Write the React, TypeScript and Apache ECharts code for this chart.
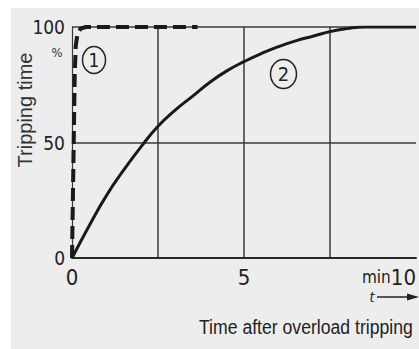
import React, { useEffect, useRef } from "react";
import * as echarts from "echarts";

// Curve ① (dashed): fast-acting
const curve1X = [0, 0.04, 0.08, 0.11, 0.16, 0.25, 0.4, 3.65];
const curve1Y = [0, 40, 80, 92, 97, 99.3, 100, 100];
// Curve ② (solid)
const curve2X = [0, 0.5, 1, 1.5, 2, 2.5, 3, 3.5, 4, 4.5, 5, 5.5, 6, 6.5, 7, 7.5, 8, 8.5, 9, 10];
const curve2Y = [0, 14, 27, 38, 48, 57, 64, 70, 76, 81, 85, 88.5, 91.5, 94, 96, 98, 99.3, 100, 100, 100];
const xTickLabels = [0, 5, 10];
const yTickLabels = [0, 50, 100];

const NARROW = "'Liberation Sans Narrow', 'DejaVu Sans Condensed', 'Liberation Sans', sans-serif";
const INK = "#1a1a1a";

export default function App() {
  const ref = useRef<HTMLDivElement>(null);
  useEffect(() => {
    if (!ref.current) return;
    const chart = echarts.init(ref.current, null, { renderer: "svg" });
    chart.setOption({
      animation: false,
      backgroundColor: "transparent",
      grid: { left: 72, right: 3, top: 27, bottom: 91 },
      xAxis: {
        type: "value",
        min: 0,
        max: 10,
        interval: 2.5,
        axisLine: { show: true, lineStyle: { color: "#2a2a2a", width: 2 } },
        axisTick: { show: false },
        axisLabel: {
          margin: 9,
          fontFamily: NARROW,
          fontSize: 22,
          lineHeight: 20,
          color: "#222",
          alignMaxLabel: "right",
          formatter: (v: number) =>
            v === 10 ? "{u|min}10" : xTickLabels.includes(v) ? String(v) : "",
          rich: {
            u: { fontFamily: NARROW, fontSize: 17, lineHeight: 20, color: "#222" },
          },
        },
        splitLine: { show: true, showMinLine: false, showMaxLine: false, lineStyle: { color: "#3a3a3a", width: 1.5 } },
      },
      yAxis: {
        type: "value",
        min: 0,
        max: 100,
        interval: 50,
        axisLine: { show: true, lineStyle: { color: "#3a3a3a", width: 1.2 } },
        axisTick: { show: false },
        axisLabel: {
          margin: 7,
          fontFamily: NARROW,
          fontSize: 19,
          color: "#222",
          formatter: (v: number) => (yTickLabels.includes(v) ? String(v) : ""),
        },
        splitLine: { show: true, lineStyle: { color: "#3a3a3a", width: 1.5 } },
      },
      series: [
        {
          type: "line",
          data: curve1X.map((x, i) => [x, curve1Y[i]]),
          showSymbol: false,
          symbol: "none",
          smooth: false,
          lineStyle: { color: INK, width: 4, type: [13, 6] },
          z: 3,
        },
        {
          type: "line",
          data: curve2X.map((x, i) => [x, curve2Y[i]]),
          showSymbol: false,
          symbol: "none",
          smooth: true,
          lineStyle: { color: INK, width: 3 },
          z: 4,
        },
      ],
      graphic: [
        {
          type: "text",
          x: 25,
          y: 110,
          rotation: Math.PI / 2,
          style: {
            text: "Tripping time",
            fontFamily: "'Liberation Sans', sans-serif",
            fontSize: 20,
            fill: "#333",
            align: "center",
            verticalAlign: "middle",
          },
        },
        {
          type: "text",
          x: 57,
          y: 52,
          style: { text: "%", fontFamily: NARROW, fontSize: 13, fill: "#333", align: "center", verticalAlign: "middle" },
        },
        {
          type: "ellipse",
          shape: { cx: 94, cy: 60, rx: 11.5, ry: 13.5 },
          style: { fill: "none", stroke: "#222", lineWidth: 1.5 },
        },
        {
          type: "text",
          x: 94,
          y: 60,
          style: { text: "1", fontFamily: NARROW, fontSize: 19, fill: "#222", align: "center", verticalAlign: "middle" },
        },
        {
          type: "ellipse",
          shape: { cx: 283.5, cy: 74, rx: 13, ry: 14.5 },
          style: { fill: "none", stroke: "#222", lineWidth: 1.5 },
        },
        {
          type: "text",
          x: 283.5,
          y: 74,
          style: { text: "2", fontFamily: NARROW, fontSize: 20, fill: "#222", align: "center", verticalAlign: "middle" },
        },
        {
          type: "text",
          x: 372,
          y: 297,
          style: { text: "t", fontFamily: NARROW, fontSize: 14, fontStyle: "italic", fill: "#222", align: "center", verticalAlign: "middle" },
        },
        {
          type: "line",
          shape: { x1: 377, y1: 297, x2: 411, y2: 297 },
          style: { stroke: "#222", lineWidth: 1.3 },
        },
        {
          type: "polygon",
          shape: { points: [[419, 297], [407, 293.5], [407, 300.5]] },
          style: { fill: "#222" },
        },
        {
          type: "text",
          x: 199,
          y: 326,
          scaleX: 0.84,
          style: {
            text: "Time after overload tripping",
            fontFamily: "'Liberation Sans', sans-serif",
            fontSize: 21,
            fill: "#222",
            align: "left",
            verticalAlign: "middle",
          },
        },
      ],
    });
    return () => chart.dispose();
  }, []);
  return (
    <div style={{ position: "fixed", left: 0, top: 0, width: 419, height: 349, background: "#ffffff" }}>
      <div style={{ position: "absolute", left: 11, top: 8, right: 0, bottom: 0, background: "#ededed" }} />
      <div ref={ref} style={{ position: "absolute", left: 0, top: 0, width: 419, height: 349 }} />
    </div>
  );
}
